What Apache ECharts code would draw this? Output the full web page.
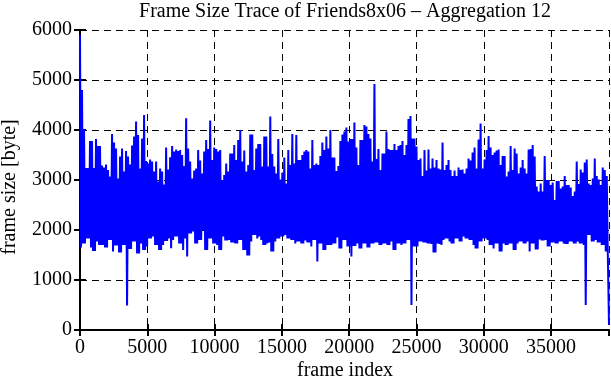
<!DOCTYPE html>
<html>
<head>
<meta charset="utf-8">
<script src="https://cdn.jsdelivr.net/npm/echarts@6/dist/echarts.min.js"></script>
<style>html,body{margin:0;padding:0;background:#fff}#c{width:611px;height:380px}</style>
</head>
<body>
<div id="c"></div>
<script>
// Upper envelope (frame size, byte), one value per ~2-pixel column, left to right
const hiValues = [
5900,4800,4020,3240,3240,3780,3780,3240,3820,3680,
3680,3290,3250,3310,3200,3070,3920,3750,3630,3030,
3470,3630,3170,3580,3470,3310,3690,3870,4170,3900,
3230,3830,4300,3380,3330,3410,3370,3170,3370,2970,
3230,3170,2910,3650,3210,
3453,3680,3570,3610,3580,3600,3500,3280,4233,3630,
3370,3030,3190,3230,3600,3390,3130,3570,3800,3620,
4190,3400,3650,3620,3570,3600,3000,3100,3330,3170,
3530,3530,3700,3400,3800,4000,3370,3590,3170,3300,
3910,3910,3200,3630,3720,
3720,3270,3870,3870,3270,4270,3520,3270,3130,3820,
3010,3150,3450,2930,3600,3300,3920,3330,3900,3400,
3400,3500,3570,3600,3570,3230,3800,3300,3330,3300,
3480,3750,3600,3870,3630,4000,3450,3450,3180,3280,
3780,3910,3970,4050,3770,
3820,3820,4150,3650,3300,3800,3800,4100,4070,3920,
3830,3370,4920,3420,3620,3200,3530,3530,3970,3620,
3600,3600,3720,3600,3680,3700,3780,3500,3700,4220,
4280,3830,3830,3670,3400,3430,3080,3600,3190,3610,
3230,3430,3250,3400,3230,
3210,3750,3200,3300,3400,3200,3080,3190,3080,3250,
3200,3210,3130,3230,3430,3390,3550,3650,3230,3810,
4130,3230,3410,3600,3880,3650,3500,3550,3590,3610,
3300,3480,3480,3070,3170,3680,3200,3630,3530,3130,
3250,3400,3230,3130,3610,
3620,3700,3470,2870,2770,2930,2770,3480,3000,3000,
2900,2950,2600,2980,2980,2830,2870,3080,2900,2900,
2850,2680,2770,3370,2920,3210,3150,3350,3410,2930,
2900,3030,3430,3080,3010,2900,3250,3200,3080
];
// Lower envelope, same columns
const loValues = [
1650,1730,1730,1830,1830,1650,1580,1580,1770,1700,
1700,1700,1650,1650,1800,1800,1570,1690,1690,1550,
1550,1700,1700,490,1620,1620,1770,1770,1530,1530,
1730,1600,1600,1670,1830,1830,1870,1700,1700,1600,
1600,1700,1780,1780,1830,
1633,1800,1870,1870,1730,1730,1600,1830,1470,1930,
1930,1970,1730,1730,1800,1800,2000,1600,1600,1830,
1830,1730,1730,1700,1600,1600,1870,1790,1790,1800,
1750,1750,1730,1730,1800,1800,1600,1600,1490,1490,
1770,1900,1900,1830,1870,
1800,1700,1700,1730,1750,1570,1570,1770,1830,1830,
1870,1870,1900,1830,1830,1800,1800,1730,1770,1770,
1730,1730,1790,1750,1750,1670,1800,1800,1370,1730,
1730,1600,1600,1700,1700,1700,1730,1730,1850,1630,
1630,1800,1800,1670,1670,
1470,1680,1680,1730,1630,1630,1730,1730,1650,1650,
1730,1730,1750,1750,1700,1700,1730,1730,1700,1700,
1770,1600,1600,1730,1730,1700,1730,1730,1800,1800,
500,1670,1670,1670,1770,1770,1750,1750,1730,1730,
1720,1550,1550,1730,1720,
1700,1800,1830,1830,1770,1730,1730,1830,1830,1770,
1770,1870,1830,1830,1800,1800,1700,1630,1630,1770,
1770,1830,1830,1800,1700,1700,1630,1730,1730,1570,
1570,1730,1700,1700,1730,1730,1600,1600,1730,1770,
1770,1730,1730,1770,1570,
1730,1730,1610,1610,1810,1790,1790,1800,1670,1670,
1750,1750,1730,1730,1770,1770,1730,1720,1720,1770,
1770,1730,1730,1770,1730,1730,1700,500,1900,1900,
1770,1770,1800,1750,1750,1700,1700,1570,1570
];
const lastFrame = 39300;
const lastValue = 100;
const xTicks = [0,5000,10000,15000,20000,25000,30000,35000];
const yTicks = [0,1000,2000,3000,4000,5000,6000];

const titleText = 'Frame Size Trace of Friends8x06 \u2013 Aggregation 12';
const xName = 'frame index';
const yName = 'frame size [byte]';

// frame index of each trace sample (hi/lo alternate)
const frameStep = 74.4;
const data = [];
for (let i = 0; i < hiValues.length; i++) {
  data.push([Math.round(2*i*frameStep), hiValues[i]]);
  data.push([Math.round((2*i+1)*frameStep), loValues[i]]);
}
data.push([lastFrame, lastValue]);

const serif = '"Liberation Serif","Times New Roman",serif';
const tickFont = { fontFamily: serif, fontSize: 20, color: '#000' };
const dash = { color: '#000', width: 1, type: [7, 5] };

function xAx(pos, labels) {
  return {
    type: 'value', position: pos, min: 0, max: lastFrame, interval: 5000,
    axisLine: { show: true, lineStyle: { color: '#000', width: 2 } },
    axisTick: { show: true, inside: true, length: 6, lineStyle: { color: '#000', width: 2 } },
    axisLabel: Object.assign({ show: labels, margin: 8, showMaxLabel: false,
      formatter: v => xTicks.indexOf(v) >= 0 ? String(v) : '' }, tickFont),
    splitLine: { show: labels, lineStyle: dash }
  };
}
function yAx(pos, labels) {
  return {
    type: 'value', position: pos, min: 0, max: 6000, interval: 1000,
    axisLine: { show: true, lineStyle: { color: '#000', width: 2 } },
    axisTick: { show: true, inside: true, length: 6, lineStyle: { color: '#000', width: 2 } },
    axisLabel: Object.assign({ show: labels, margin: 8,
      formatter: v => yTicks.indexOf(v) >= 0 ? String(v) : '' }, tickFont),
    splitLine: { show: labels, lineStyle: dash }
  };
}

const chart = echarts.init(document.getElementById('c'), null, { renderer: 'canvas' });
chart.setOption({
  animation: false,
  backgroundColor: '#fff',
  grid: { left: 80, right: 2, top: 30, bottom: 50, show: false },
  xAxis: [xAx('bottom', true), xAx('top', false)],
  yAxis: [yAx('left', true), yAx('right', false)],
  series: [{
    type: 'line', xAxisIndex: 0, yAxisIndex: 0, data: data,
    showSymbol: false, symbol: 'none',
    lineStyle: { color: '#0000ff', width: 2, join: 'bevel' }, z: 3
  }],
  graphic: [
    { type: 'text', x: 345, y: 12, style: { text: titleText, textAlign: 'center', textVerticalAlign: 'middle', font: '20px ' + serif, fill: '#000' } },
    { type: 'text', x: 345, y: 371, style: { text: xName, textAlign: 'center', textVerticalAlign: 'middle', font: '20px ' + serif, fill: '#000' } },
    { type: 'text', x: 10, y: 187, rotation: Math.PI / 2, style: { text: yName, textAlign: 'center', textVerticalAlign: 'middle', font: '20px ' + serif, fill: '#000' } }
  ]
});
</script>
</body>
</html>
